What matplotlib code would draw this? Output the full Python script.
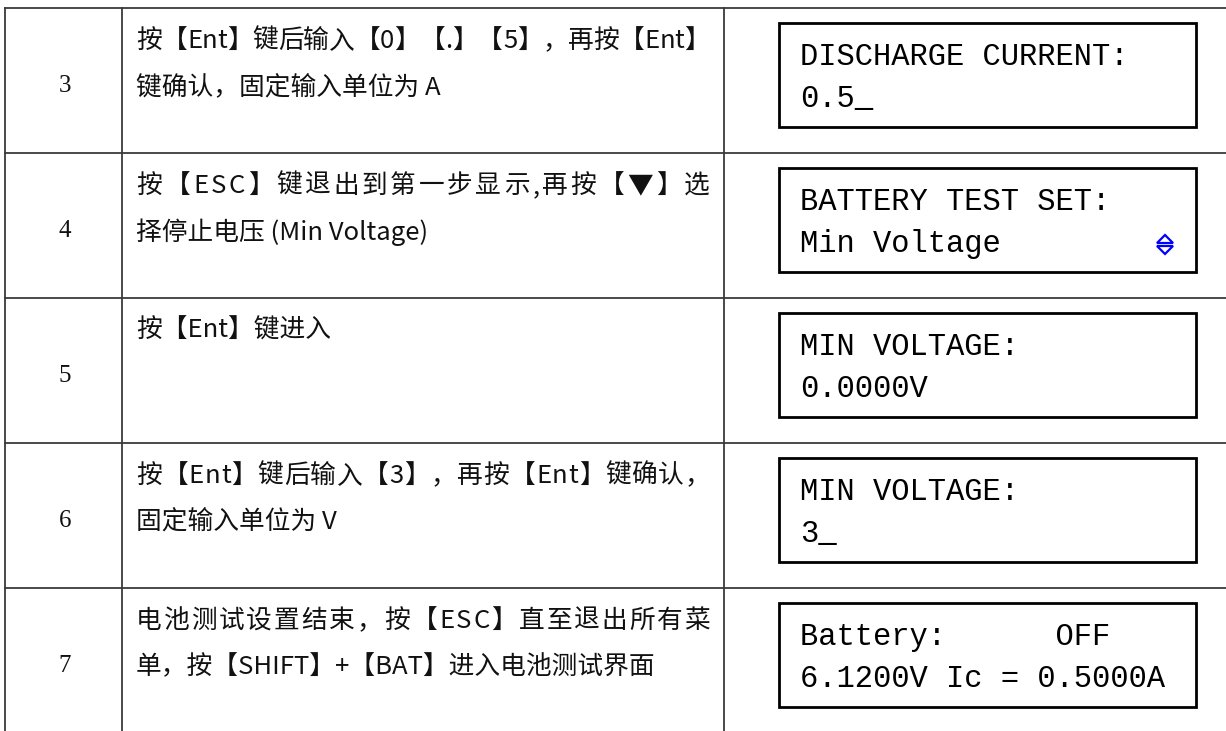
import matplotlib.pyplot as plt
from matplotlib.patches import Rectangle, Polygon

# table content
step_no = ['3', '4', '5', '6', '7']
step_text = [
    ['按【Ent】键后输入【0】【.】【5】，再按【Ent】', '键确认，固定输入单位为 A'],
    ['按【ESC】键退出到第一步显示,再按【▼】选', '择停止电压 (Min Voltage)'],
    ['按【Ent】键进入', ''],
    ['按【Ent】键后输入【3】，再按【Ent】键确认，', '固定输入单位为 V'],
    ['电池测试设置结束，按【ESC】直至退出所有菜', '单，按【SHIFT】+【BAT】进入电池测试界面'],
]
# first line of these rows is justified to the full cell width
justified = [True, True, False, True, True]
lcd_text = [
    ['DISCHARGE CURRENT:', '0.5_'],
    ['BATTERY TEST SET:', 'Min Voltage'],
    ['MIN VOLTAGE:', '0.0000V'],
    ['MIN VOLTAGE:', '3_'],
    ['Battery:      OFF', '6.1200V Ic = 0.5000A'],
]
has_arrow = [False, True, False, False, False]

W, H = 1226, 731
fig = plt.figure(figsize=(W / 100, H / 100), dpi=100)
ax = fig.add_axes([0, 0, 1, 1])
ax.set_xlim(0, W)
ax.set_ylim(H, 0)
ax.axis('off')
renderer = fig.canvas.get_renderer()

col_x = [5, 122, 724]
row_top = 8
row_h = 145
line_col = '#3a3a3a'
cjk = ['Noto Sans CJK SC', 'DejaVu Sans']
txt_kw = dict(ha='left', va='center', fontsize=18.5, family=cjk, color='#111111')


def text_width(s):
    t = ax.text(0, 0, s, **txt_kw)
    w = t.get_window_extent(renderer).width
    t.remove()
    return w


def justify_line(x0, x1, y, s):
    # spread characters so the line fills x0..x1
    full = text_width(s)
    gap = (x1 - x0 - full) / (len(s) - 1)
    for k, c in enumerate(s):
        x = x0 + (text_width(s[:k]) if k else 0) + k * gap
        ax.text(x, y, c, **txt_kw)


# grid lines
for i in range(len(step_no)):
    y = row_top + i * row_h
    ax.plot([col_x[0], W], [y, y], color=line_col, lw=1.3)
for x in col_x:
    ax.plot([x, x], [row_top, H], color=line_col, lw=1.3)

for i, n in enumerate(step_no):
    top = row_top + i * row_h
    ax.text(65, top + 78, n, ha='center', va='center', fontsize=18,
            family='Liberation Serif', color='#111111')
    if justified[i]:
        justify_line(136, 710, top + 33, step_text[i][0])
    else:
        ax.text(136, top + 33, step_text[i][0], **txt_kw)
    if step_text[i][1]:
        ax.text(136, top + 79, step_text[i][1], **txt_kw)

    # LCD display box
    ax.add_patch(Rectangle((779, top + 15), 417, 104, fill=False,
                           edgecolor='black', lw=2))
    ax.text(800, top + 49, lcd_text[i][0], ha='left', va='center',
            fontsize=22, family='Liberation Mono', color='black')
    ax.text(800, top + 91, lcd_text[i][1], ha='left', va='center',
            fontsize=22, family='Liberation Mono', color='black')
    if has_arrow[i]:
        # blue up/down selector icon
        cx, cy = 1165, top + 91
        ax.add_patch(Polygon([(cx - 8, cy - 1), (cx + 8, cy - 1), (cx, cy - 9)],
                             closed=True, fill=False, edgecolor='blue', lw=1.6))
        ax.add_patch(Polygon([(cx - 8, cy + 2), (cx + 8, cy + 2), (cx, cy + 10)],
                             closed=True, fill=False, edgecolor='blue', lw=1.6))

fig.savefig('out.png', dpi=100)
